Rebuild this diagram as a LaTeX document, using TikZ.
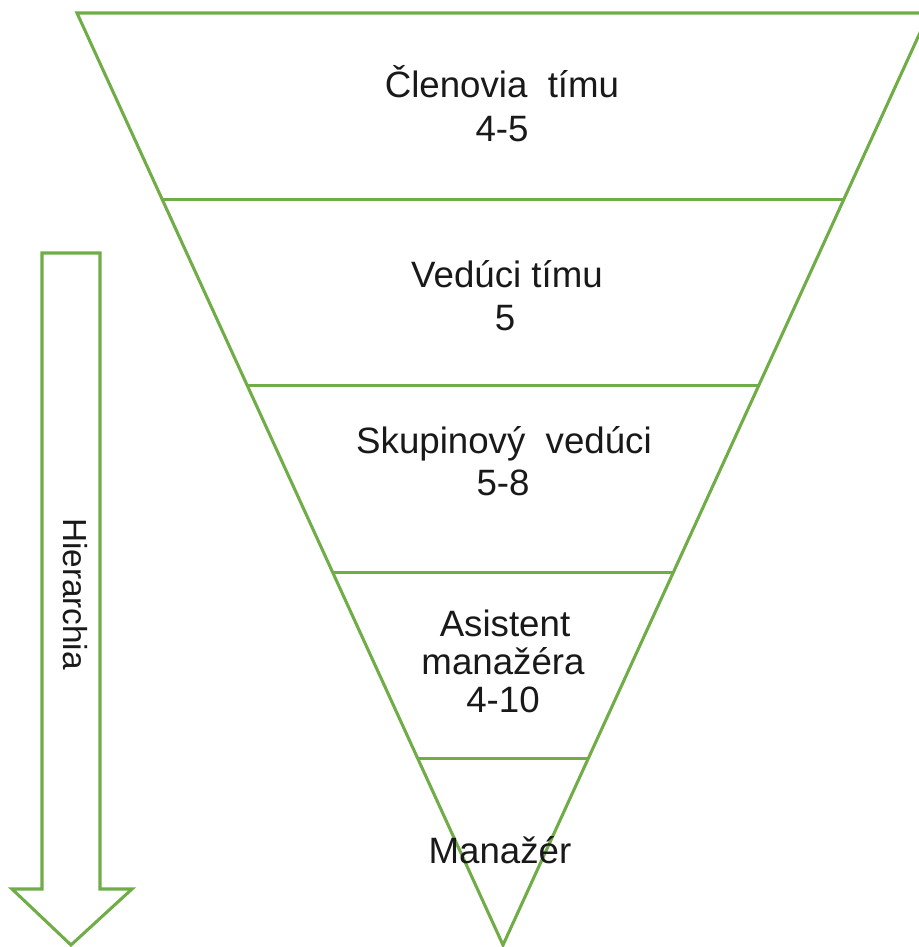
\documentclass[tikz,border=0pt]{standalone}
\usepackage{fontspec}
\setmainfont{Liberation Sans}
\usepackage{tikz}
\usetikzlibrary{calc}

\definecolor{leafgreen}{RGB}{112,173,71}
\definecolor{inkgray}{RGB}{25,25,25}

\begin{document}
\begin{tikzpicture}[x=0.75pt,y=-0.75pt,
  line/.style={draw=leafgreen, line width=2.3pt, line join=miter},
  lbl/.style={anchor=base, inner sep=0pt, text=inkgray, font=\fontsize{27.5pt}{32pt}\selectfont}]
\useasboundingbox (0,0) rectangle (919,947);
\clip (0,0) rectangle (919,947);
\fill[white] (0,0) rectangle (919,947);

\coordinate (tl) at (77,13);
\coordinate (tr) at (929,13);
\coordinate (apex) at (503,945);
\draw[line] (tl) -- (tr) -- (apex) -- cycle;
\foreach \t/\n in {0.2/a,0.4/b,0.6/c,0.8/d}
{
	\coordinate (l\n) at ($(tl)!\t!(apex)$);
	\coordinate (r\n) at ($(tr)!\t!(apex)$);
	\draw[line] (l\n) -- (r\n);
}

\draw[line] (42,253) -- (100,253) -- (100,889) -- (132,889) -- (71,945)
	-- (12,889) -- (42,889) -- cycle;

\node[lbl](m1) at (502,97) {Členovia\ \ tímu};
\node[lbl](n1) at (502,141) {4-5};
\node[lbl](m2) at (507,287) {Vedúci tímu};
\node[lbl](n2) at (505,330) {5};
\node[lbl](m3) at (504,453) {Skupinový\ \ vedúci};
\node[lbl](n3) at (503,495) {5-8};
\node[lbl](m4) at (505,636) {Asistent};
\node[lbl](m4b) at (503,674) {manažéra};
\node[lbl](n4) at (503,712) {4-10};
\node[lbl](m5) at (500,863) {Manažér};
\node[lbl, anchor=center, rotate=-90, font=\fontsize{25pt}{30pt}\selectfont](hier) at (75,594) {Hierarchia};
\end{tikzpicture}
\end{document}
